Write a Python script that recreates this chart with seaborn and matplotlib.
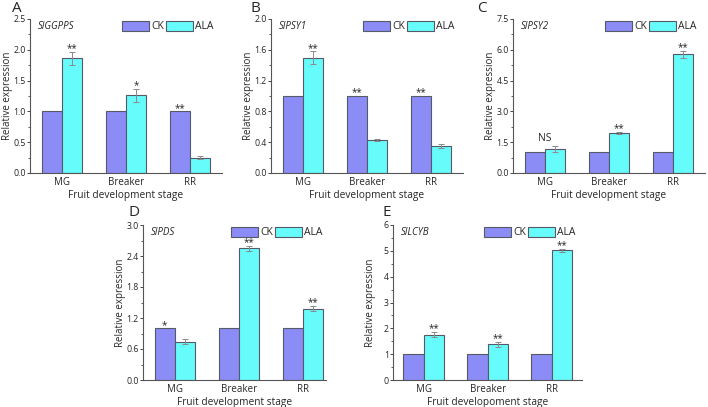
import pandas as pd
import matplotlib
matplotlib.use("Agg")
import matplotlib.pyplot as plt
import matplotlib.patches as mpatches
from matplotlib.ticker import MultipleLocator, AutoMinorLocator, FormatStrFormatter
import seaborn as sns

# data
stages = ["MG", "Breaker", "RR"]
treatments = ["CK", "ALA"]

ggpps_ck = [1.0, 1.0, 1.0]
ggpps_ala = [1.86, 1.26, 0.25]
ggpps_err = [0.11, 0.10, 0.02]
ggpps_sig_ck = ["", "", "**"]
ggpps_sig_ala = ["**", "*", ""]

psy1_ck = [1.0, 1.0, 1.0]
psy1_ala = [1.50, 0.43, 0.35]
psy1_err = [0.08, 0.015, 0.03]
psy1_sig_ck = ["", "**", "**"]
psy1_sig_ala = ["**", "", ""]

psy2_ck = [1.0, 1.0, 1.0]
psy2_ala = [1.17, 1.95, 5.78]
psy2_err = [0.13, 0.04, 0.18]
psy2_sig_ck = ["", "", ""]
psy2_sig_ala = ["", "**", "**"]
psy2_note = ["NS", "", ""]

pds_ck = [1.0, 1.0, 1.0]
pds_ala = [0.74, 2.55, 1.38]
pds_err = [0.05, 0.05, 0.05]
pds_sig_ck = ["*", "", ""]
pds_sig_ala = ["", "**", "**"]

lcyb_ck = [1.0, 1.0, 1.0]
lcyb_ala = [1.76, 1.38, 5.02]
lcyb_err = [0.09, 0.09, 0.05]
lcyb_sig_ck = ["", "", ""]
lcyb_sig_ala = ["**", "**", "**"]

sns.set_style("ticks")
plt.rcParams["font.family"] = ["Open Sans", "DejaVu Sans"]

CK_COL = "#8c8cf7"
ALA_COL = "#66fcfc"
EDGE = "#555a66"

W, H = 708, 407
fig = plt.figure(figsize=(W / 100, H / 100), dpi=100)


def panel(left, top, bottom, xlim, ck, ala, err, sig_ck, sig_ala, ymax, ystep,
          gene, letter, letter_xy, xlabel, note=None):
    width = (xlim[1] - xlim[0]) * 64
    ax = fig.add_axes([left / W, 1 - bottom / H, width / W, (bottom - top) / H])
    df = pd.DataFrame({
        "stage": stages * 2,
        "treatment": ["CK"] * 3 + ["ALA"] * 3,
        "value": list(ck) + list(ala),
    })
    sns.barplot(data=df, x="stage", y="value", hue="treatment", order=stages,
                hue_order=treatments, palette=[CK_COL, ALA_COL], width=0.64,
                gap=0, errorbar=None, edgecolor=EDGE, linewidth=0.8,
                saturation=1, legend=False, ax=ax)
    ck_bars = ax.containers[0]
    ala_bars = ax.containers[1]
    ala_x = [b.get_x() + b.get_width() / 2 for b in ala_bars]
    ck_x = [b.get_x() + b.get_width() / 2 for b in ck_bars]
    ax.errorbar(ala_x, ala, yerr=err, fmt="none", ecolor="#8a8a8a",
                elinewidth=0.7, capsize=2, capthick=0.7)
    off = ymax * 0.004
    for i in range(3):
        if sig_ck[i]:
            ax.text(ck_x[i], ck[i] + off, sig_ck[i], ha="center",
                    va="baseline", fontsize=7)
        if sig_ala[i]:
            ax.text(ala_x[i], ala[i] + err[i] + off, sig_ala[i], ha="center",
                    va="baseline", fontsize=7)
        if note and note[i]:
            top_v = max(ck[i], ala[i] + err[i])
            ax.text((ck_x[i] + ala_x[i]) / 2, top_v + ymax * 0.033, note[i],
                    ha="center", va="baseline", fontsize=7.5)
    ax.set_xlim(*xlim)
    ax.set_ylim(0, ymax)
    ax.yaxis.set_major_locator(MultipleLocator(ystep))
    ax.yaxis.set_minor_locator(AutoMinorLocator(2))
    if float(ystep).is_integer():
        ax.yaxis.set_major_formatter(FormatStrFormatter("%d"))
    else:
        ax.yaxis.set_major_formatter(FormatStrFormatter("%.1f"))
    ax.tick_params(axis="y", which="major", length=2, width=0.7, labelsize=6.3,
                   pad=1, color="#444444")
    ax.tick_params(axis="y", which="minor", length=1.3, width=0.6, color="#444444")
    ax.tick_params(axis="x", length=0, labelsize=7, pad=3)
    for s in ["top", "right"]:
        ax.spines[s].set_visible(False)
    for s in ["left", "bottom"]:
        ax.spines[s].set_linewidth(0.8)
        ax.spines[s].set_color("#555555")
    ax.set_xlabel(xlabel, fontsize=7.3, labelpad=1)
    ax.set_ylabel("Relative expression", fontsize=7)
    ax.yaxis.set_label_coords(-17 / width, 0.5)
    ax.text(0.04, 0.95, gene, transform=ax.transAxes, fontsize=7,
            style="italic", va="center", ha="left")
    handles = [mpatches.Patch(facecolor=CK_COL, edgecolor=EDGE, lw=0.8, label="CK"),
               mpatches.Patch(facecolor=ALA_COL, edgecolor=EDGE, lw=0.8, label="ALA")]
    ax.legend(handles=handles, ncol=2, frameon=False, loc="upper left",
              bbox_to_anchor=(0.48, 0.99), fontsize=7.5, handlelength=2.6,
              handleheight=1.2, handletextpad=0.2, columnspacing=0.2,
              borderaxespad=0, borderpad=0)
    fig.text(letter_xy[0] / W, 1 - letter_xy[1] / H, letter, fontsize=11,
             va="top", ha="left")
    return ax


xl = "Fruit development stage"
panel(30, 19, 173, (-0.5, 2.5), ggpps_ck, ggpps_ala, ggpps_err, ggpps_sig_ck,
      ggpps_sig_ala, 2.5, 0.5, "SlGGPPS", "A", (12, 1), xl)
panel(271, 19, 173, (-0.5, 2.5), psy1_ck, psy1_ala, psy1_err, psy1_sig_ck,
      psy1_sig_ala, 2.0, 0.4, "SlPSY1", "B", (251, 1), xl)
panel(513, 19, 173, (-0.5, 2.5), psy2_ck, psy2_ala, psy2_err, psy2_sig_ck,
      psy2_sig_ala, 7.5, 1.5, "SlPSY2", "C", (477, 1), xl, note=psy2_note)
panel(143, 225, 380, (-0.5, 2.36), pds_ck, pds_ala, pds_err, pds_sig_ck,
      pds_sig_ala, 3.0, 0.6, "SlPDS", "D", (129, 205), xl)
panel(393, 225, 380, (-0.48, 2.48), lcyb_ck, lcyb_ala, lcyb_err, lcyb_sig_ck,
      lcyb_sig_ala, 6, 1, "SlLCYB", "E", (382, 205), "Fruit developoment stage")

fig.savefig("out.png", dpi=100)
